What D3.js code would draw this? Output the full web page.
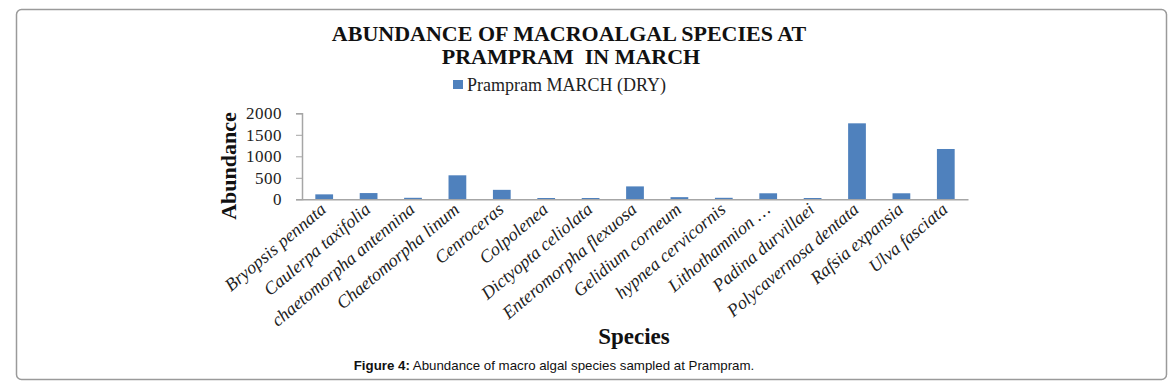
<!DOCTYPE html>
<html>
<head>
<meta charset="utf-8">
<script src="https://cdn.jsdelivr.net/npm/d3@7"></script>
<style>
  body { margin: 0; background: #fff; }
  svg { display: block; }
</style>
</head>
<body>
<div id="chart"></div>
<script>
// species on the x axis
const species = [
    "Bryopsis pennata", "Caulerpa taxifolia", "chaetomorpha antennina",
    "Chaetomorpha linum", "Cenroceras", "Colpolenea", "Dictyopta celiolata",
    "Enteromorpha flexuosa", "Gelidium corneum", "hypnea cervicornis",
    "Lithothamnion …", "Padina durvillaei", "Polycavernosa dentata",
    "Rafsia expansia", "Ulva fasciata"
];

// Prampram MARCH (DRY)
const abundance = [115, 145, 35, 558, 220, 30, 30, 300, 50, 35, 140, 30, 1767, 140, 1170];

const yTicks = [0, 500, 1000, 1500, 2000];

const seriesName = "Prampram MARCH (DRY)";
const barColor = "#4f81bd";

const W = 1176, H = 390;
const margin = { top: 113.3, left: 302, right: W - 968, bottom: H - 199.3 };
const width = W - margin.left - margin.right;
const height = H - margin.top - margin.bottom;

const serif = "'Liberation Serif', 'Times New Roman', serif";

const svg = d3.select("#chart").append("svg")
    .attr("width", W)
    .attr("height", H);

// outer frame
svg.append("rect")
    .attr("x", 16.5).attr("y", 9.5)
    .attr("width", 1150).attr("height", 370)
    .attr("rx", 5)
    .attr("fill", "none")
    .attr("stroke", "#9a9a9a")
    .attr("stroke-width", 1.5);

// title
const title = svg.append("text")
    .attr("text-anchor", "middle")
    .style("font-family", serif)
    .style("font-weight", "bold")
    .style("font-size", "22px")
    .style("white-space", "pre")
    .style("fill", "#111");
title.append("tspan").attr("x", 569).attr("y", 41).text("ABUNDANCE OF MACROALGAL SPECIES AT");
title.append("tspan").attr("x", 571).attr("y", 64).text("PRAMPRAM  IN MARCH");

// legend
svg.append("rect")
    .attr("x", 453).attr("y", 80)
    .attr("width", 10).attr("height", 9)
    .attr("fill", barColor);
svg.append("text")
    .attr("x", 467).attr("y", 90.5)
    .style("font-family", serif)
    .style("font-size", "18px")
    .style("fill", "#222")
    .text(seriesName);

const g = svg.append("g")
    .attr("transform", `translate(${margin.left},${margin.top})`);

const x = d3.scaleBand()
    .domain(species)
    .range([0, width])
    .paddingInner(0.6)
    .paddingOuter(0.3);

const y = d3.scaleLinear()
    .domain([0, 2000])
    .range([height, 0]);

// y axis
const yAxis = g.append("g")
    .call(d3.axisLeft(y).tickValues(yTicks).tickFormat(d3.format("d")).tickSize(6).tickPadding(14));
yAxis.select(".domain").attr("stroke", "#a6a6a6").attr("stroke-width", 1.5);
yAxis.selectAll(".tick line").attr("stroke", "#a6a6a6");
yAxis.selectAll(".tick text")
    .style("font-family", serif)
    .style("font-size", "17px")
    .style("letter-spacing", "0.5px")
    .style("fill", "#222");

// bars
g.selectAll(".bar")
    .data(abundance)
    .enter().append("rect")
    .attr("class", "bar")
    .attr("x", (d, i) => x(species[i]))
    .attr("y", d => y(d))
    .attr("width", x.bandwidth())
    .attr("height", d => height - y(d))
    .attr("fill", barColor);

// x axis
const xAxis = g.append("g")
    .attr("transform", `translate(0,${height})`)
    .call(d3.axisBottom(x).tickSize(0).tickPadding(0).tickSizeOuter(0));
xAxis.select(".domain").attr("stroke", "#a6a6a6").attr("stroke-width", 1.5);
xAxis.selectAll(".tick text")
    .attr("text-anchor", "end")
    .attr("dy", null)
    .attr("transform", "translate(3,12) rotate(-40)")
    .style("font-family", serif)
    .style("font-style", "italic")
    .style("font-size", "18px")
    .style("fill", "#222");

// axis titles
svg.append("text")
    .attr("transform", "translate(236,166) rotate(-90)")
    .attr("text-anchor", "middle")
    .style("font-family", serif)
    .style("font-weight", "bold")
    .style("font-size", "22px")
    .style("fill", "#111")
    .text("Abundance");

svg.append("text")
    .attr("x", 634).attr("y", 344)
    .attr("text-anchor", "middle")
    .style("font-family", serif)
    .style("font-weight", "bold")
    .style("font-size", "23px")
    .style("fill", "#111")
    .text("Species");

// caption
const caption = svg.append("text")
    .attr("x", 554).attr("y", 370)
    .attr("text-anchor", "middle")
    .style("font-family", "'Liberation Sans', Arial, sans-serif")
    .style("font-size", "13.3px")
    .style("fill", "#111");
caption.append("tspan").style("font-weight", "bold").text("Figure 4:");
caption.append("tspan").text(" Abundance of macro algal species sampled at Prampram.");
</script>
</body>
</html>
